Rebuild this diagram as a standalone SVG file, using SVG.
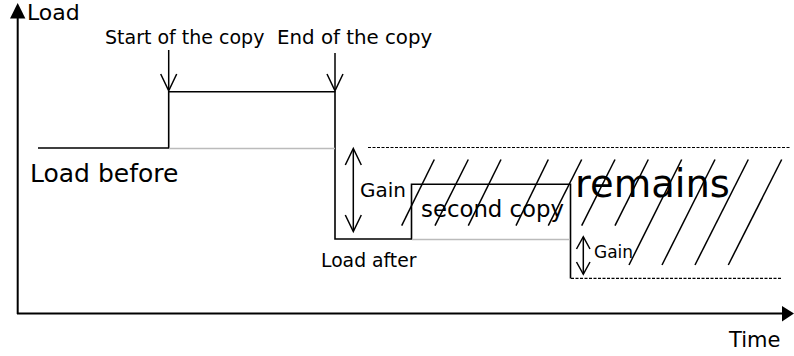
<svg xmlns="http://www.w3.org/2000/svg" width="794" height="356" viewBox="0 0 794 356">
<style>
text{font-family:"DejaVu Sans","Liberation Sans",sans-serif;fill:#000}
.ln{stroke:#000;stroke-width:1.6;fill:none}
.ax{stroke:#000;stroke-width:2;fill:none}
.gr{stroke:#bbb;stroke-width:1.5;fill:none}
.ds{stroke:#000;stroke-width:1.2;stroke-dasharray:3,1.5;fill:none}
.ar{stroke:#000;stroke-width:1.5;fill:none}
.ht{stroke:#000;stroke-width:1.5;fill:none}
</style>
<rect width="794" height="356" fill="#fff"/>
<g id="axes">
<line class="ax" x1="17.7" y1="314" x2="17.7" y2="14"/>
<polygon points="10,18.5 17.7,3 25.4,18.5" fill="#000"/>
<line class="ax" x1="17" y1="313.5" x2="784" y2="313.5"/>
<polygon points="782,306 794,313.5 782,321.5" fill="#000"/>
<text x="27" y="19.5" font-size="22">Load</text>
<text x="729" y="347" font-size="21">Time</text>
</g>
<g id="load-curve">
<polyline class="ln" points="38,148 168.7,148 168.7,91.7 335,91.7 335,239 411.5,239 411.5,184.3 570.5,184.3 570.5,278.5"/>
<line class="gr" x1="169" y1="148.5" x2="335" y2="148.5"/>
<line class="gr" x1="412" y1="239.5" x2="570" y2="239.5"/>
<line class="ds" x1="368" y1="147.5" x2="790" y2="147.5"/>
<line class="ds" x1="571" y1="278.3" x2="782" y2="278.3"/>
</g>
<g id="connectors">
<line class="ar" x1="168.7" y1="50" x2="168.7" y2="90"/>
<polyline class="ar" points="160.7,74 168.7,90.7 176.7,74"/>
<line class="ar" x1="335" y1="53" x2="335" y2="90"/>
<polyline class="ar" points="327,74 335,90.7 343,74"/>
<line class="ar" x1="353.3" y1="149" x2="353.3" y2="231"/>
<polyline class="ar" points="345.3,165 353.3,148.5 361.3,165"/>
<polyline class="ar" points="345.3,215 353.3,231.5 361.3,215"/>
<line class="ar" x1="583.3" y1="237" x2="583.3" y2="274"/>
<polyline class="ar" points="576.5,249 583.3,236.7 590,249"/>
<polyline class="ar" points="576.5,262 583.3,274.3 590,262"/>
</g>
<g id="hatch">
<line class="ht" x1="401.7" y1="225.7" x2="434.3" y2="159.5"/>
<line class="ht" x1="435" y1="225.7" x2="468.3" y2="159.5"/>
<line class="ht" x1="468.3" y1="225.7" x2="501" y2="159.5"/>
<line class="ht" x1="516" y1="225.7" x2="548.3" y2="159.5"/>
<line class="ht" x1="548.3" y1="225.7" x2="581.7" y2="159.5"/>
<line class="ht" x1="581.7" y1="225.7" x2="615" y2="159.5"/>
<line class="ht" x1="615" y1="225.7" x2="648.3" y2="159.5"/>
<line class="ht" x1="629" y1="265" x2="681.7" y2="159.5"/>
<line class="ht" x1="662" y1="265" x2="715" y2="159.5"/>
<line class="ht" x1="695" y1="265" x2="748.3" y2="159.5"/>
<line class="ht" x1="728.3" y1="265" x2="781.7" y2="159.5"/>
</g>
<g id="labels">
<text x="105" y="44" font-size="19">Start of the copy</text>
<text x="277" y="44" font-size="19.8">End of the copy</text>
<text x="30" y="182" font-size="25">Load before</text>
<text x="360" y="197" font-size="20">Gain</text>
<text x="421" y="217" font-size="22.8">second copy</text>
<text x="575" y="197" font-size="38.5">remains</text>
<text x="321" y="267" font-size="18.8">Load after</text>
<text x="594" y="258" font-size="17">Gain</text>
</g>
</svg>
